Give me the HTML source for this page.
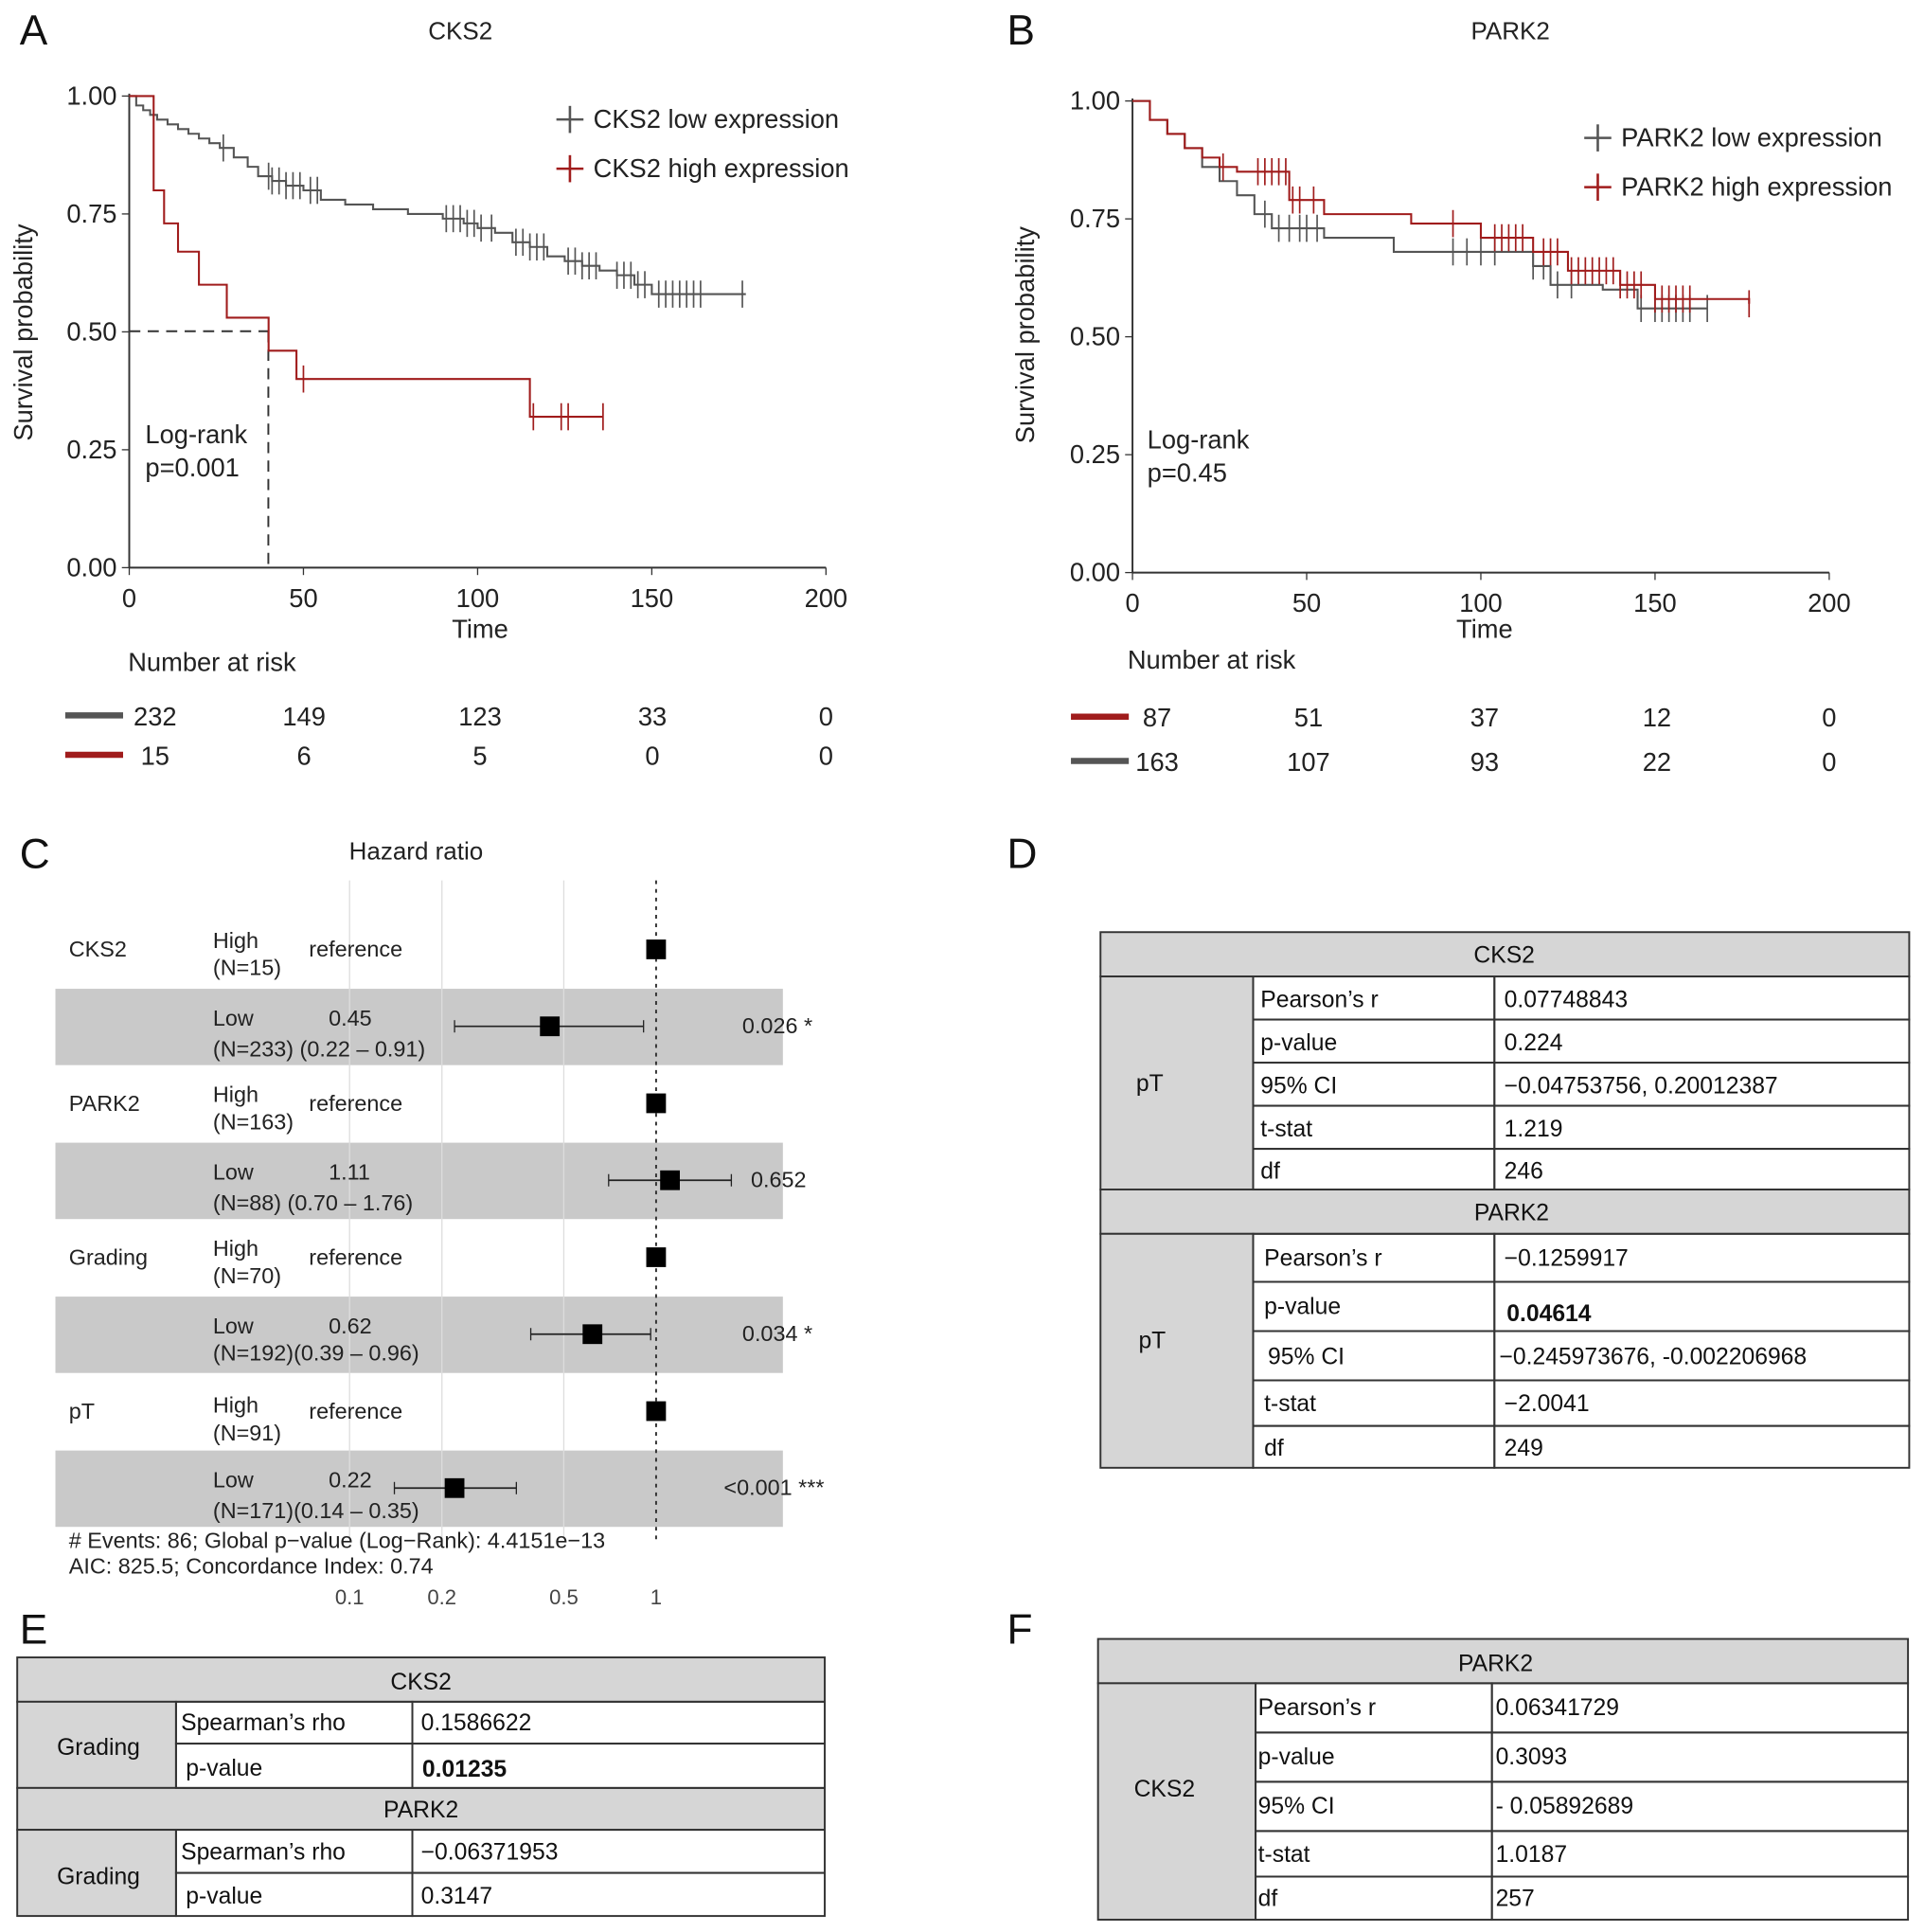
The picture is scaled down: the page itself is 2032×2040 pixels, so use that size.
<!DOCTYPE html>
<html><head><meta charset="utf-8"><style>
html,body{margin:0;padding:0;background:#fff;}
svg{display:block;font-family:"Liberation Sans",Arial,sans-serif;}
</style></head><body>
<svg id="fig" width="2032" height="2040" viewBox="0 0 1563 1569" preserveAspectRatio="none" xmlns="http://www.w3.org/2000/svg">
<rect width="1563" height="1569" fill="#fff"/>
<g font-size="34" fill="#111">
<text x="16" y="36">A</text><text x="818" y="36">B</text><text x="16" y="705">C</text><text x="818" y="705">D</text><text x="16" y="1335">E</text><text x="818" y="1335">F</text>
</g>
<g font-size="20" fill="#222">
<text x="374" y="32" text-anchor="middle">CKS2</text>
<text transform="translate(26,270) rotate(-90)" text-anchor="middle" font-size="21">Survival probability</text>
<text x="390" y="518" text-anchor="middle" font-size="21">Time</text>
<text x="118" y="360" font-size="21">Log-rank</text><text x="118" y="387" font-size="21">p=0.001</text>
<line x1="105" y1="269" x2="218" y2="269" stroke="#333" stroke-dasharray="9,6" stroke-width="1.5"/>
<line x1="218" y1="269" x2="218" y2="461" stroke="#333" stroke-dasharray="9,6" stroke-width="1.5"/>
<line x1="452" y1="97" x2="474" y2="97" stroke="#555" stroke-width="2"/><line x1="463" y1="86" x2="463" y2="108" stroke="#555" stroke-width="2"/>
<text x="482" y="104" font-size="21">CKS2 low expression</text>
<line x1="452" y1="137" x2="474" y2="137" stroke="#a01c1c" stroke-width="2"/><line x1="463" y1="126" x2="463" y2="148" stroke="#a01c1c" stroke-width="2"/>
<text x="482" y="144" font-size="21">CKS2 high expression</text>
<text x="104" y="545" font-size="21">Number at risk</text>
<line x1="53" y1="581" x2="100" y2="581" stroke="#555" stroke-width="5"/>
<line x1="53" y1="613" x2="100" y2="613" stroke="#a01c1c" stroke-width="5"/>
<g text-anchor="middle" font-size="21"><text x="126" y="589">232</text><text x="247" y="589">149</text><text x="390" y="589">123</text><text x="530" y="589">33</text><text x="671" y="589">0</text>
<text x="126" y="621">15</text><text x="247" y="621">6</text><text x="390" y="621">5</text><text x="530" y="621">0</text><text x="671" y="621">0</text></g>
</g>
<g font-size="20" fill="#222">
<text x="1227" y="32" text-anchor="middle">PARK2</text>
<text transform="translate(840,272) rotate(-90)" text-anchor="middle" font-size="21">Survival probability</text>
<text x="1206" y="518" text-anchor="middle" font-size="21">Time</text>
<text x="932" y="364" font-size="21">Log-rank</text><text x="932" y="391" font-size="21">p=0.45</text>
<line x1="1287" y1="112" x2="1309" y2="112" stroke="#555" stroke-width="2"/><line x1="1298" y1="101" x2="1298" y2="123" stroke="#555" stroke-width="2"/>
<text x="1317" y="119" font-size="21">PARK2 low expression</text>
<line x1="1287" y1="152" x2="1309" y2="152" stroke="#a01c1c" stroke-width="2"/><line x1="1298" y1="141" x2="1298" y2="163" stroke="#a01c1c" stroke-width="2"/>
<text x="1317" y="159" font-size="21">PARK2 high expression</text>
<text x="916" y="543" font-size="21">Number at risk</text>
<line x1="870" y1="582" x2="917" y2="582" stroke="#a01c1c" stroke-width="5"/>
<line x1="870" y1="618" x2="917" y2="618" stroke="#555" stroke-width="5"/>
<g text-anchor="middle" font-size="21"><text x="940" y="590">87</text><text x="1063" y="590">51</text><text x="1206" y="590">37</text><text x="1346" y="590">12</text><text x="1486" y="590">0</text>
<text x="940" y="626">163</text><text x="1063" y="626">107</text><text x="1206" y="626">93</text><text x="1346" y="626">22</text><text x="1486" y="626">0</text></g>
</g>
<g font-size="18" fill="#222">
<text x="338" y="698" text-anchor="middle" font-size="20">Hazard ratio</text>
<rect x="45" y="803" width="591" height="62" fill="#c9c9c9"/><rect x="45" y="928" width="591" height="62" fill="#c9c9c9"/>
<rect x="45" y="1053" width="591" height="62" fill="#c9c9c9"/><rect x="45" y="1178" width="591" height="62" fill="#c9c9c9"/>
<g stroke="#ddd" stroke-width="1"><line x1="284" y1="715" x2="284" y2="1250"/><line x1="359" y1="715" x2="359" y2="1250"/><line x1="458" y1="715" x2="458" y2="1250"/></g>
<line x1="533" y1="715" x2="533" y2="1250" stroke="#333" stroke-dasharray="3,4" stroke-width="1.5"/>
<text x="56" y="777">CKS2</text><text x="173" y="770">High</text><text x="173" y="792">(N=15)</text><text x="251" y="777">reference</text>
<text x="173" y="833">Low</text><text x="267" y="833">0.45</text><text x="173" y="858">(N=233) (0.22 – 0.91)</text><text x="603" y="839">0.026 *</text>
<text x="56" y="902">PARK2</text><text x="173" y="895">High</text><text x="173" y="917">(N=163)</text><text x="251" y="902">reference</text>
<text x="173" y="958">Low</text><text x="267" y="958">1.11</text><text x="173" y="983">(N=88) (0.70 – 1.76)</text><text x="610" y="964">0.652</text>
<text x="56" y="1027">Grading</text><text x="173" y="1020">High</text><text x="173" y="1042">(N=70)</text><text x="251" y="1027">reference</text>
<text x="173" y="1083">Low</text><text x="267" y="1083">0.62</text><text x="173" y="1105">(N=192)(0.39 – 0.96)</text><text x="603" y="1089">0.034 *</text>
<text x="56" y="1152">pT</text><text x="173" y="1147">High</text><text x="173" y="1170">(N=91)</text><text x="251" y="1152">reference</text>
<text x="173" y="1208">Low</text><text x="267" y="1208">0.22</text><text x="173" y="1233">(N=171)(0.14 – 0.35)</text><text x="588" y="1214">&lt;0.001 ***</text>
<text x="56" y="1257">#&#160;Events: 86; Global p−value (Log−Rank): 4.4151e−13</text>
<text x="56" y="1278">AIC: 825.5; Concordance Index: 0.74</text>
<g text-anchor="middle" fill="#444" font-size="17"><text x="284" y="1303">0.1</text><text x="359" y="1303">0.2</text><text x="458" y="1303">0.5</text><text x="533" y="1303">1</text></g>
</g>
<g font-size="19" fill="#111" stroke-width="1.5">
<g fill="#d6d6d6" stroke="#333"><rect x="894" y="757" width="657" height="36"/><rect x="894" y="793" width="124" height="173"/><rect x="894" y="966" width="657" height="36"/><rect x="894" y="1002" width="124" height="190"/></g>
<g fill="none" stroke="#333">
<rect x="1018" y="793" width="196" height="35"/><rect x="1214" y="793" width="337" height="35"/>
<rect x="1018" y="828" width="196" height="35"/><rect x="1214" y="828" width="337" height="35"/>
<rect x="1018" y="863" width="196" height="35"/><rect x="1214" y="863" width="337" height="35"/>
<rect x="1018" y="898" width="196" height="35"/><rect x="1214" y="898" width="337" height="35"/>
<rect x="1018" y="933" width="196" height="33"/><rect x="1214" y="933" width="337" height="33"/>
<rect x="1018" y="1002" width="196" height="39"/><rect x="1214" y="1002" width="337" height="39"/>
<rect x="1018" y="1041" width="196" height="40"/><rect x="1214" y="1041" width="337" height="40"/>
<rect x="1018" y="1081" width="196" height="40"/><rect x="1214" y="1081" width="337" height="40"/>
<rect x="1018" y="1121" width="196" height="37"/><rect x="1214" y="1121" width="337" height="37"/>
<rect x="1018" y="1158" width="196" height="34"/><rect x="1214" y="1158" width="337" height="34"/>
</g>
<text x="1222" y="782" text-anchor="middle">CKS2</text><text x="934" y="886" text-anchor="middle">pT</text>
<text x="1024" y="818">Pearson’s r</text><text x="1222" y="818">0.07748843</text>
<text x="1024" y="853">p-value</text><text x="1222" y="853">0.224</text>
<text x="1024" y="888">95% CI</text><text x="1222" y="888">−0.04753756, 0.20012387</text>
<text x="1024" y="923">t-stat</text><text x="1222" y="923">1.219</text>
<text x="1024" y="957">df</text><text x="1222" y="957">246</text>
<text x="1228" y="991" text-anchor="middle">PARK2</text><text x="936" y="1095" text-anchor="middle">pT</text>
<text x="1027" y="1028">Pearson’s r</text><text x="1222" y="1028">−0.1259917</text>
<text x="1027" y="1067">p-value</text><text x="1224" y="1073" font-weight="bold">0.04614</text>
<text x="1030" y="1108">95% CI</text><text x="1218" y="1108">−0.245973676, -0.002206968</text>
<text x="1027" y="1146">t-stat</text><text x="1222" y="1146">−2.0041</text>
<text x="1027" y="1182">df</text><text x="1222" y="1182">249</text>
</g>
<g font-size="19" fill="#111" stroke-width="1.5">
<g fill="#d6d6d6" stroke="#333"><rect x="14" y="1346" width="656" height="36"/><rect x="14" y="1382" width="129" height="70"/><rect x="14" y="1452" width="656" height="34"/><rect x="14" y="1486" width="129" height="70"/></g>
<g fill="none" stroke="#333">
<rect x="143" y="1382" width="192" height="34"/><rect x="335" y="1382" width="335" height="34"/>
<rect x="143" y="1416" width="192" height="36"/><rect x="335" y="1416" width="335" height="36"/>
<rect x="143" y="1486" width="192" height="35"/><rect x="335" y="1486" width="335" height="35"/>
<rect x="143" y="1521" width="192" height="35"/><rect x="335" y="1521" width="335" height="35"/>
</g>
<text x="342" y="1372" text-anchor="middle">CKS2</text><text x="80" y="1425" text-anchor="middle">Grading</text>
<text x="147" y="1405">Spearman’s rho</text><text x="342" y="1405">0.1586622</text>
<text x="151" y="1442">p-value</text><text x="343" y="1443" font-weight="bold">0.01235</text>
<text x="342" y="1476" text-anchor="middle">PARK2</text><text x="80" y="1530" text-anchor="middle">Grading</text>
<text x="147" y="1510">Spearman’s rho</text><text x="342" y="1510">−0.06371953</text>
<text x="151" y="1546">p-value</text><text x="342" y="1546">0.3147</text>
</g>
<g font-size="19" fill="#111" stroke-width="1.5">
<g fill="#d6d6d6" stroke="#333"><rect x="892" y="1331" width="658" height="36"/><rect x="892" y="1367" width="128" height="192"/></g>
<g fill="none" stroke="#333">
<rect x="1020" y="1367" width="192" height="40"/><rect x="1212" y="1367" width="338" height="40"/>
<rect x="1020" y="1407" width="192" height="40"/><rect x="1212" y="1407" width="338" height="40"/>
<rect x="1020" y="1447" width="192" height="40"/><rect x="1212" y="1447" width="338" height="40"/>
<rect x="1020" y="1487" width="192" height="37"/><rect x="1212" y="1487" width="338" height="37"/>
<rect x="1020" y="1524" width="192" height="35"/><rect x="1212" y="1524" width="338" height="35"/>
</g>
<text x="1215" y="1357" text-anchor="middle">PARK2</text><text x="946" y="1459" text-anchor="middle">CKS2</text>
<text x="1022" y="1393">Pearson’s r</text><text x="1215" y="1393">0.06341729</text>
<text x="1022" y="1433">p-value</text><text x="1215" y="1433">0.3093</text>
<text x="1022" y="1473">95% CI</text><text x="1215" y="1473">- 0.05892689</text>
<text x="1022" y="1512">t-stat</text><text x="1215" y="1512">1.0187</text>
<text x="1022" y="1548">df</text><text x="1215" y="1548">257</text>
</g>
<g id="dyn"></g>
</svg>
<script>
const aLowT = [0,2,4,6,8,11,14,17,20,23,26,30,34,37,41,45,50,55,62,70,80,90,96,100,105,110,115,120,125,130,135,140,145,150,177];
const aLowS = [1,0.98,0.97,0.96,0.95,0.94,0.93,0.92,0.91,0.90,0.89,0.87,0.85,0.83,0.82,0.81,0.80,0.78,0.77,0.76,0.75,0.74,0.73,0.72,0.71,0.69,0.68,0.66,0.65,0.64,0.63,0.62,0.60,0.58,0.58];
const aLowCens = [27,40,41,43,45,47,49,52,54,91,93,95,97,99,101,104,111,113,115,117,119,126,128,130,132,134,140,142,144,146,148,152,154,156,158,160,162,164,176];
const aHighT = [0,7,10,14,20,28,40,48,115,136];
const aHighS = [1,0.80,0.73,0.67,0.60,0.53,0.46,0.40,0.32,0.32];
const aHighCens = [50,116,124,126,136];
const bLowT = [0,5,10,15,20,25,30,35,40,55,75,100,115,120,135,145,165];
const bLowS = [1,0.96,0.93,0.90,0.86,0.83,0.80,0.76,0.73,0.71,0.68,0.68,0.65,0.61,0.60,0.56,0.56];
const bLowCens = [38,42,45,48,50,53,92,96,100,104,115,118,122,126,146,150,152,154,156,158,160,165];
const bHighT = [0,5,10,15,20,25,30,45,55,80,100,115,125,140,150,177];
const bHighS = [1,0.96,0.93,0.90,0.88,0.86,0.85,0.79,0.76,0.74,0.71,0.68,0.64,0.61,0.58,0.57];
const bHighCens = [26,36,38,40,42,44,46,48,52,92,104,106,108,110,112,118,120,122,126,128,130,132,134,136,138,140,142,144,146,150,152,154,156,158,160,177];
const xTicks = [0,50,100,150,200];
const yTicks = [0,0.25,0.5,0.75,1];
const hrVals = [1,0.45,1,1.11,1,0.62,1,0.22];
const hrLo = [null,0.22,null,0.70,null,0.39,null,0.14];
const hrHi = [null,0.91,null,1.76,null,0.96,null,0.35];
const NS='http://www.w3.org/2000/svg';
const dyn=document.getElementById('dyn');
function mk(tag,attrs,name){const el=document.createElementNS(NS,tag);for(const k in attrs)el.setAttribute(k,attrs[k]);


dyn.appendChild(el);return el;}
function panel(x0,x1,y0,y1,tag,series){
 const xs=t=>x0+(x1-x0)*t/200, ys=s=>y0+(y1-y0)*s;
 mk('line',{x1:x0,y1:y1-2,x2:x0,y2:y0,stroke:'#333','stroke-width':1.5},'y-axis-'+tag);
 mk('line',{x1:x0,y1:y0,x2:x1,y2:y0,stroke:'#333','stroke-width':1.5},'x-axis-'+tag);
 xTicks.forEach(t=>{mk('line',{x1:xs(t),y1:y0,x2:xs(t),y2:y0+6,stroke:'#333'},'x-tick-'+tag);
  const tx=mk('text',{x:xs(t),y:y0+32,'text-anchor':'middle','font-size':21,fill:'#222'},'x-tick-label-'+tag);tx.textContent=t;});
 yTicks.forEach(v=>{mk('line',{x1:x0-6,y1:ys(v),x2:x0,y2:ys(v),stroke:'#333'},'y-tick-'+tag);
  const tx=mk('text',{x:x0-10,y:ys(v)+7,'text-anchor':'end','font-size':21,fill:'#222'},'y-tick-label-'+tag);tx.textContent=v.toFixed(2);});
 series.forEach(([T,S,C,col,nm])=>{
  let d='M'+xs(T[0])+' '+ys(S[0]);
  for(let i=1;i<T.length;i++)d+=' H'+xs(T[i])+' V'+ys(S[i]);
  mk('path',{d:d,fill:'none',stroke:col,'stroke-width':1.6},nm+'-curve');
  C.forEach(c=>{let s=S[0];for(let i=0;i<T.length;i++)if(T[i]<=c)s=S[i];
   mk('line',{x1:xs(c),y1:ys(s)-11,x2:xs(c),y2:ys(s)+11,stroke:col,'stroke-width':1.3},nm+'-censor');});
 });
}
panel(105,671,461,78,'a',[[aLowT,aLowS,aLowCens,'#555','cks2-low'],[aHighT,aHighS,aHighCens,'#a01c1c','cks2-high']]);
panel(920,1486,465,82,'b',[[bLowT,bLowS,bLowCens,'#555','park2-low'],[bHighT,bHighS,bHighCens,'#a01c1c','park2-high']]);
const fx=v=>533+249*Math.log10(v);
hrVals.forEach((v,i)=>{const y=771+62.5*i;
 if(hrLo[i]!==null){mk('line',{x1:fx(hrLo[i]),y1:y,x2:fx(hrHi[i]),y2:y,stroke:'#222','stroke-width':1.3},'ci-line');
  mk('line',{x1:fx(hrLo[i]),y1:y-5,x2:fx(hrLo[i]),y2:y+5,stroke:'#222'},'ci-cap');
  mk('line',{x1:fx(hrHi[i]),y1:y-5,x2:fx(hrHi[i]),y2:y+5,stroke:'#222'},'ci-cap');}
 mk('rect',{x:fx(v)-8,y:y-8,width:16,height:16,fill:'#000'},'hr-marker');});
</script>
</body></html>
